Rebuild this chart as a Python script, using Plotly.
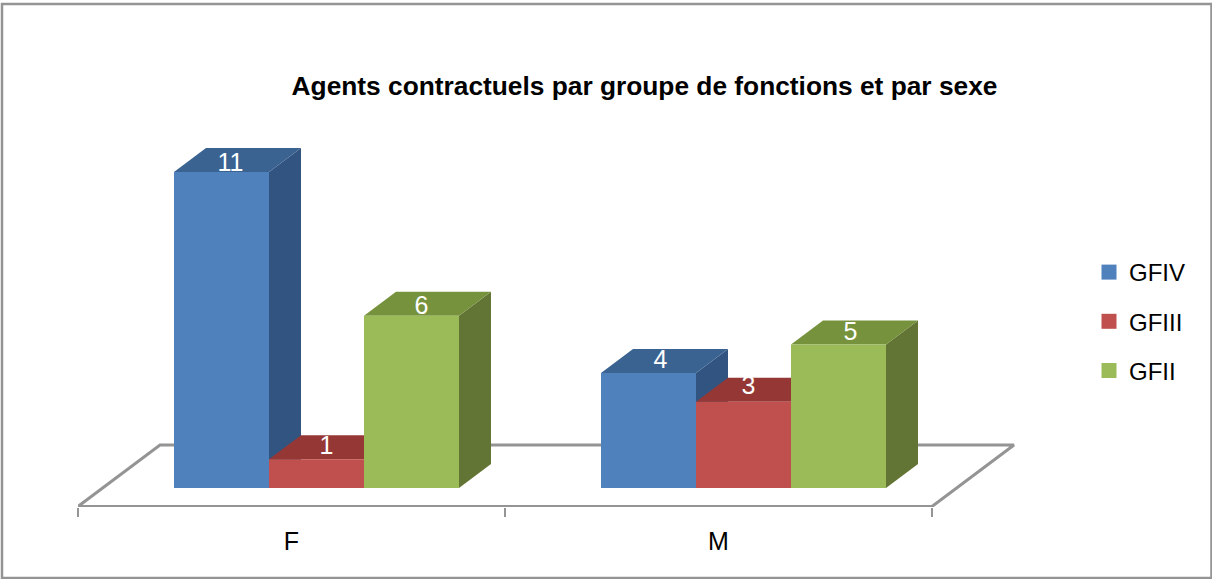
import plotly.graph_objects as go

# Data
categories = ["F", "M"]
series_names = ["GFIV", "GFIII", "GFII"]
gfiv = [11, 4]
gfiii = [1, 3]
gfii = [6, 5]
series_values = [gfiv, gfiii, gfii]
title_text = "Agents contractuels par groupe de fonctions et par sexe"

# Styles
front_colors = ["#4F81BD", "#C0504D", "#9BBB59"]
top_colors = ["#3A6391", "#953735", "#76923C"]
side_colors = ["#325480", "#7F2E2C", "#637534"]
GREY = "#949494"
FONT = "Liberation Sans"

# Pixel layout -> axis scales
W, H = 1212, 579
PX_CAT = 427.0       # px per category
PX_VAL = 28.72       # px per value unit
X0_PX = 291.5        # px of category 0
Y0_PX = 488.0        # px of value 0
L, R, T, B = 78, 1016, 120, 507
xr = [(L - X0_PX) / PX_CAT, (R - X0_PX) / PX_CAT]
yr = [(Y0_PX - B) / PX_VAL, (Y0_PX - T) / PX_VAL]

bw = 95.0 / PX_CAT
start = (174 - X0_PX) / PX_CAT
ddx = 32.0 / PX_CAT
ddy = 24.0 / PX_VAL
floor_y = (Y0_PX - 506.5) / PX_VAL
floor_dx = 82.0 / PX_CAT
floor_dy = 61.5 / PX_VAL

# small per-label pixel nudges as seen in the picture (dx, dy up)
label_nudge = [[(9, 7), (12, 11)], [(10, 12), (5, 14)], [(10, 8), (12, 11)]]

fig = go.Figure()

# floor
fx = [-0.5, 1.5, 1.5 + floor_dx, -0.5 + floor_dx, -0.5]
fy = [floor_y, floor_y, floor_y + floor_dy, floor_y + floor_dy, floor_y]
fig.add_trace(go.Scatter(x=fx, y=fy, mode="lines", line=dict(color=GREY, width=3),
                         showlegend=False, hoverinfo="skip", cliponaxis=False))

# side and top faces, back to front, left to right
for c in range(len(categories)):
    for s, vals in enumerate(series_values):
        v = vals[c]
        x1 = c + start + s * bw
        x2 = x1 + bw
        fig.add_trace(go.Scatter(
            x=[x2, x2 + ddx, x2 + ddx, x2, x2], y=[0, ddy, v + ddy, v, 0],
            mode="lines", fill="toself", fillcolor=side_colors[s], line=dict(width=0),
            showlegend=False, hoverinfo="skip", cliponaxis=False))
        fig.add_trace(go.Scatter(
            x=[x1, x1 + ddx, x2 + ddx, x2, x1], y=[v, v + ddy, v + ddy, v, v],
            mode="lines", fill="toself", fillcolor=top_colors[s], line=dict(width=0),
            showlegend=False, hoverinfo="skip", cliponaxis=False))

# front faces on an overlaid subplot, so they cover the faces behind
for s, vals in enumerate(series_values):
    fig.add_trace(go.Bar(
        x=[0, 1], y=vals, width=bw, offset=start + s * bw, name=series_names[s],
        marker=dict(color=front_colors[s], line=dict(width=0)),
        xaxis="x2", yaxis="y2", showlegend=False))

# data labels
for s, vals in enumerate(series_values):
    lx = [c + start + (s + 0.5) * bw + label_nudge[s][c][0] / PX_CAT for c in range(2)]
    ly = [vals[c] + label_nudge[s][c][1] / PX_VAL for c in range(2)]
    fig.add_trace(go.Scatter(
        x=lx, y=ly, text=[str(v) for v in vals], mode="text", textposition="middle center",
        textfont=dict(family=FONT, size=25, color="white"),
        xaxis="x2", yaxis="y2", showlegend=False, hoverinfo="skip", cliponaxis=False))

# legend entries
for s, name in enumerate(series_names):
    fig.add_trace(go.Scatter(
        x=[None], y=[None], mode="markers", name=name, legendgroup=name,
        marker=dict(symbol="square", size=15, color=front_colors[s])))

px_x = lambda p: (p - L) / (R - L)
px_y = lambda p: (B - p) / (B - T)

fig.update_layout(
    width=W, height=H, autosize=False,
    margin=dict(l=L, r=W - R, t=T, b=H - B, pad=0),
    paper_bgcolor="white", plot_bgcolor="rgba(0,0,0,0)",
    barmode="overlay",
    font=dict(family=FONT, color="black"),
    title=dict(text="<b>" + title_text + "</b>", font=dict(family=FONT, size=26.3, color="black"),
               x=644.5 / W, xref="container", xanchor="center",
               y=1 - 86 / H, yref="container", yanchor="middle"),
    xaxis=dict(range=xr, tickmode="array", tickvals=[0, 1], ticktext=categories,
               ticks="outside", ticklen=12, tickcolor="rgba(0,0,0,0)",
               tickfont=dict(family=FONT, size=25, color="black"),
               showgrid=False, zeroline=False, showline=False,
               minor=dict(tickmode="array", tickvals=[-0.5, 0.5, 1.5], ticks="outside",
                          ticklen=9, tickwidth=2, tickcolor=GREY, showgrid=False)),
    yaxis=dict(range=yr, visible=False, showgrid=False, zeroline=False),
    xaxis2=dict(range=xr, overlaying="x", visible=False),
    yaxis2=dict(range=yr, overlaying="y", visible=False),
    showlegend=True,
    legend=dict(xref="container", yref="container", x=1089 / W, xanchor="left",
                y=1 - 250 / H, yanchor="top",
                bgcolor="rgba(0,0,0,0)", traceorder="grouped", tracegroupgap=15,
                font=dict(family=FONT, size=24, color="black"), itemclick=False,
                itemdoubleclick=False),
    shapes=[dict(type="rect", xref="paper", yref="paper", layer="above",
                 x0=px_x(2), x1=px_x(1211.5), y0=px_y(578), y1=px_y(4),
                 line=dict(color=GREY, width=2.5), fillcolor="rgba(0,0,0,0)")],
)

fig.write_html("out.html", config=dict(displayModeBar=False),
               post_script="document.body.style.margin='0';")
